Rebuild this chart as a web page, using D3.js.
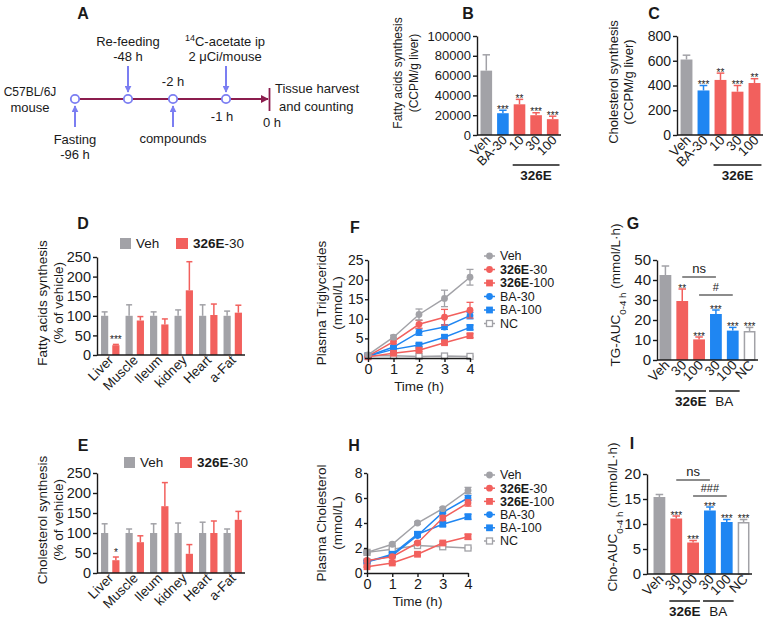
<!DOCTYPE html>
<html><head><meta charset="utf-8">
<script src="https://cdn.jsdelivr.net/npm/d3@7"></script>
<style>body{margin:0;background:#fff}svg{display:block}</style>
</head><body><svg id="c" width="771" height="626"></svg>
<script>
// ---------- DATA ----------
// Panel B: fatty acid synthesis (CCPM/g liver)
const bCats = ["Veh","BA-30","10","30","100"];
const bKinds = ["veh","ba","e","e","e"];
const bVals = [65000,22000,31000,20000,16000];
const bErr = [16000,3000,5000,2500,3000];
const bStars = ["","***","**","***","***"];
const bTicks = [0,20000,40000,60000,80000,100000];
// Panel C: cholesterol synthesis (CCPM/g liver)
const cCats = ["Veh","BA-30","10","30","100"];
const cVals = [610,360,445,350,420];
const cErr = [35,40,55,50,35];
const cStars = ["","***","**","***","**"];
const cTicks = [0,200,400,600,800];
// Panels D/E: tissues, % of vehicle
const organs = ["Liver","Muscle","Ileum","kidney","Heart","a-Fat"];
const dVeh = [100,100,100,100,100,100];
const dVehErr = [10,28,10,15,28,12];
const dTrt = [25,88,78,165,102,108];
const dTrtErr = [2,10,14,73,28,19];
const dStars = ["***","","","","",""];
const eVeh = [100,100,100,100,100,100];
const eVehErr = [23,10,23,25,27,10];
const eTrt = [32,77,167,48,100,133];
const eTrtErr = [8,16,59,23,30,21];
const eStars = ["*","","","","",""];
const pctTicks = [0,50,100,150,200,250];
// Panels F/H: time course
const hours = [0,1,2,3,4];
const seriesNames = ["Veh","326E-30","326E-100","BA-30","BA-100","NC"];
const tgVeh = [0.8,5.3,11.1,15.2,20.6],   tgVehErr = [0.2,0.5,1.4,2.1,2.0];
const tg326E30 = [0.5,4.2,8.6,10.4,12.2], tg326E30Err = [0.2,0.6,1.0,2.0,2.0];
const tg326E100 = [0.3,1.2,2.0,3.9,5.7],  tg326E100Err = [0.1,0.2,0.3,0.4,0.5];
const tgBA30 = [0.5,2.8,6.6,7.9,10.8],    tgBA30Err = [0.1,0.4,0.8,0.6,0.8];
const tgBA100 = [0.5,2.2,3.3,5.3,7.8],    tgBA100Err = [0.1,0.3,0.4,0.5,0.6];
const tgNC = [0.6,0.6,0.4,0.5,0.4],       tgNCErr = [0.1,0.1,0.1,0.1,0.1];
const tgTicks = [0,5,10,15,20,25];
const choVeh = [1.65,2.3,4.0,5.15,6.6],   choVehErr = [0.1,0.1,0.1,0.1,0.25];
const cho326E30 = [1.0,1.3,2.4,4.4,5.6],  cho326E30Err = [0.1,0.1,0.1,0.2,0.25];
const cho326E100 = [0.5,0.8,1.5,2.4,2.9], cho326E100Err = [0.05,0.1,0.1,0.1,0.2];
const choBA30 = [0.9,1.4,3.0,4.85,6.0],   choBA30Err = [0.1,0.1,0.1,0.1,0.2];
const choBA100 = [0.9,1.5,3.1,3.9,4.5],   choBA100Err = [0.1,0.1,0.2,0.15,0.2];
const choNC = [1.65,1.9,2.2,2.1,2.0],     choNCErr = [0.05,0.05,0.05,0.05,0.05];
const choTicks = [0,2,4,6,8];
// Panels G/I: AUC
const aucCats = ["Veh","30","100","30","100","NC"];
const aucKinds = ["veh","e","e","ba","ba","nc"];
const gVals = [42.5,29.5,10.3,23,14.7,14.5];
const gErr = [4.5,6,1.2,2,1.6,1.8];
const gStars = ["","**","***","***","***","***"];
const gTicks = [0,10,20,30,40,50];
const gSig = [{from:1,to:3,label:"ns",at:41.5},{from:2,to:4,label:"#",at:32.5}];
const iVals = [15.4,11.1,6.3,12.7,10.4,10.4];
const iErr = [0.5,0.5,0.4,0.7,0.5,0.5];
const iStars = ["","***","***","***","***","***"];
const iTicks = [0,5,10,15,20];
const iSig = [{from:1,to:3,label:"ns",at:18.8},{from:2,to:4,label:"###",at:15.6}];
const aucGroups = [{label:"326E",from:1,to:2},{label:"BA",from:3,to:4}];
const bcGroups = [{label:"326E",from:2,to:4}];

// ---------- STYLE ----------
const FONT = 'Arial, "Liberation Sans", Helvetica, sans-serif';
const GRAY = "#a2a2a7", RED = "#f2605d", BLUE = "#1f86f2", INK = "#1a1a1a";
const MAROON = "#8b1d4e", VIOLET = "#7b7ef2";
const kindColor = {veh:GRAY, ba:BLUE, e:RED, nc:GRAY};
const svg = d3.select("#c");

function text(g, x, y, s, o = {}) {
  return g.append("text").attr("x", x).attr("y", y).text(s)
    .attr("font-family", FONT).attr("font-size", o.fs || 13)
    .attr("font-weight", o.bold ? "bold" : "normal")
    .attr("text-anchor", o.anchor || "start").attr("fill", o.fill || INK);
}
function boldPrefix(g, x, y, s, fs, anchor) {
  const t = g.append("text").attr("x", x).attr("y", y).attr("font-family", FONT)
    .attr("font-size", fs).attr("fill", INK).attr("text-anchor", anchor || "start");
  if (s.startsWith("326E")) {
    t.append("tspan").attr("font-weight", "bold").text("326E");
    t.append("tspan").text(s.slice(4));
  } else t.text(s);
  return t;
}
function styleAxis(ax, fs) {
  ax.select(".domain").attr("stroke", INK).attr("stroke-width", 1.4);
  ax.selectAll(".tick line").attr("stroke", INK).attr("stroke-width", 1.4);
  ax.selectAll(".tick text").attr("font-size", fs).attr("font-family", FONT).attr("fill", INK);
}
function yAxis(g, y, x, ticks, fs, ts = 4, tp = 2) {
  const ax = g.append("g").attr("transform", `translate(${x},0)`)
    .call(d3.axisLeft(y).tickValues(ticks).tickSize(ts).tickSizeOuter(0).tickPadding(tp).tickFormat(d3.format("d")));
  styleAxis(ax, fs);
}
function yTitle(g, cx, cy, lines, fs) {
  lines.forEach((l, i) => {
    const t = g.append("text").attr("transform", `translate(${cx[i]},${cy}) rotate(-90)`)
      .attr("text-anchor", "middle").attr("font-family", FONT).attr("font-size", fs).attr("fill", INK);
    if (Array.isArray(l)) l.forEach(p => {
      const ts = t.append("tspan").text(p.t);
      if (p.sub) ts.attr("baseline-shift", "sub").attr("font-size", fs * 0.72);
    });
    else t.text(l);
  });
}
function catLabels(g, centers, yBot, labels, fs, dx, dy) {
  labels.forEach((l, i) => {
    g.append("text").attr("transform", `translate(${centers[i] + dx},${yBot + dy}) rotate(-45)`)
      .attr("text-anchor", "end").attr("font-family", FONT).attr("font-size", fs).attr("fill", INK).text(l);
  });
}

// ---------- simple bar panels (B, C, G, I) ----------
function barPanel(o) {
  const g = svg.append("g");
  const x = d3.scaleBand().domain(d3.range(o.vals.length)).range(o.xr).paddingInner(0.3).paddingOuter(0.15);
  const y = d3.scaleLinear().domain([0, o.max]).range([o.yBot, o.yTop]);
  const bw = x.bandwidth();
  o.vals.forEach((v, i) => {
    const col = kindColor[o.kinds[i]], cx = x(i) + bw / 2;
    const isNC = o.kinds[i] === "nc";
    g.append("line").attr("x1", cx).attr("x2", cx).attr("y1", y(v)).attr("y2", y(v + o.err[i]))
      .attr("stroke", col).attr("stroke-width", 1.5);
    g.append("line").attr("x1", cx - bw * 0.32).attr("x2", cx + bw * 0.32).attr("y1", y(v + o.err[i])).attr("y2", y(v + o.err[i]))
      .attr("stroke", col).attr("stroke-width", 1.5);
    g.append("rect").attr("x", x(i) + (isNC ? 0.75 : 0)).attr("y", y(v) + (isNC ? 0.75 : 0))
      .attr("width", bw - (isNC ? 1.5 : 0)).attr("height", y(0) - y(v) - (isNC ? 0.75 : 0))
      .attr("fill", isNC ? "#fff" : col).attr("stroke", isNC ? col : "none").attr("stroke-width", 1.5);
    if (o.stars[i]) text(g, cx, y(v + o.err[i]) + 2.5, o.stars[i], {fs: 10, anchor: "middle"});
  });
  yAxis(g, y, o.axisX, o.ticks, o.fs);
  g.append("line").attr("x1", o.axisX).attr("x2", o.xr[1]).attr("y1", o.yBot).attr("y2", o.yBot)
    .attr("stroke", INK).attr("stroke-width", 1.4);
  const centers = d3.range(o.vals.length).map(i => x(i) + bw / 2);
  catLabels(g, centers, o.yBot, o.cats, o.catFs, 5, 6);
  o.groups.forEach(gr => {
    const x1 = x(gr.from) - 1, x2 = x(gr.to) + bw + 1;
    g.append("line").attr("x1", x1).attr("x2", x2).attr("y1", o.yBot + o.ulDy).attr("y2", o.yBot + o.ulDy)
      .attr("stroke", INK).attr("stroke-width", 1.5);
    text(g, (x1 + x2) / 2, o.yBot + o.ulDy + 15, gr.label, {fs: 13.5, bold: gr.label === "326E", anchor: "middle"});
  });
  (o.sig || []).forEach(s => {
    const x1 = centers[s.from], x2 = centers[s.to];
    g.append("line").attr("x1", x1).attr("x2", x2).attr("y1", y(s.at)).attr("y2", y(s.at))
      .attr("stroke", INK).attr("stroke-width", 1.2);
    text(g, (x1 + x2) / 2, y(s.at) - 4, s.label, {fs: s.label === "ns" ? 13 : 11, anchor: "middle"});
  });
  yTitle(g, o.titleX, o.titleY, o.title, o.titleFs);
  text(g, o.letter[0], o.letter[1], o.letter[2], {fs: 16, bold: true, anchor: "middle"});
}

barPanel({vals: bVals, err: bErr, stars: bStars, kinds: bKinds, cats: bCats, max: 100000, ticks: bTicks,
  xr: [478, 561], axisX: 477, yTop: 36, yBot: 135, fs: 13, catFs: 13, groups: bcGroups, ulDy: 30,
  title: ["Fatty acids synthesis", "(CCPM/g liver)"], titleX: [402, 418], titleY: 73, titleFs: 12,
  letter: [468, 19, "B"]});
barPanel({vals: cVals, err: cErr, stars: cStars, kinds: bKinds, cats: cCats, max: 800, ticks: cTicks,
  xr: [678, 763], axisX: 677, yTop: 36, yBot: 135, fs: 14, catFs: 13.5, groups: bcGroups, ulDy: 30,
  title: ["Cholesterol synthesis", "(CCPM/g liver)"], titleX: [618, 633], titleY: 82, titleFs: 13,
  letter: [654, 19, "C"]});
barPanel({vals: gVals, err: gErr, stars: gStars, kinds: aucKinds, cats: aucCats, max: 50, ticks: gTicks,
  xr: [657, 758], axisX: 657, yTop: 260, yBot: 360, fs: 15, catFs: 13.5, groups: aucGroups, ulDy: 31, sig: gSig,
  title: [[{t:"TG-AUC"},{t:"0-4 h",sub:true},{t:" (mmol/L·h)"}]], titleX: [620], titleY: 295, titleFs: 13.5,
  letter: [633, 229, "G"]});
barPanel({vals: iVals, err: iErr, stars: iStars, kinds: aucKinds, cats: aucCats, max: 20, ticks: iTicks,
  xr: [651, 752], axisX: 647, yTop: 474, yBot: 574, fs: 15, catFs: 13.5, groups: aucGroups, ulDy: 27, sig: iSig,
  title: [[{t:"Cho-AUC"},{t:"0-4 h",sub:true},{t:" (mmol/L·h)"}]], titleX: [617], titleY: 517, titleFs: 13.5,
  letter: [632, 449, "I"]});

// ---------- grouped tissue panels (D, E) ----------
function groupPanel(o) {
  const g = svg.append("g");
  const x = d3.scaleBand().domain(organs).range([98, 245]);
  const xi = d3.scaleBand().domain(["veh", "trt"]).range([0, x.bandwidth()]).paddingInner(0.36).paddingOuter(0.27);
  const y = d3.scaleLinear().domain([0, 250]).range([o.yBot, o.yTop]);
  const bw = xi.bandwidth();
  organs.forEach((org, i) => {
    [["veh", o.veh[i], o.vehErr[i], GRAY], ["trt", o.trt[i], o.trtErr[i], RED]].forEach(([k, v, e, col]) => {
      const x0 = x(org) + xi(k), cx = x0 + bw / 2;
      g.append("line").attr("x1", cx).attr("x2", cx).attr("y1", y(v)).attr("y2", y(v + e)).attr("stroke", col).attr("stroke-width", 1.5);
      g.append("line").attr("x1", cx - 3).attr("x2", cx + 3).attr("y1", y(v + e)).attr("y2", y(v + e)).attr("stroke", col).attr("stroke-width", 1.5);
      g.append("rect").attr("x", x0).attr("y", y(v)).attr("width", bw).attr("height", y(0) - y(v)).attr("fill", col);
      if (k === "trt" && o.stars[i]) text(g, cx, y(v + e) - 1, o.stars[i], {fs: 10, anchor: "middle"});
    });
  });
  yAxis(g, y, 97, pctTicks, 14.5);
  g.append("line").attr("x1", 97).attr("x2", 245).attr("y1", o.yBot).attr("y2", o.yBot).attr("stroke", INK).attr("stroke-width", 1.4);
  catLabels(g, organs.map(d => x(d) + x.bandwidth() / 2), o.yBot, organs, 13.5, 4, 6);
  // legend
  g.append("rect").attr("x", o.leg[0]).attr("y", o.leg[1] - 10).attr("width", 11).attr("height", 11).attr("fill", GRAY);
  text(g, o.leg[0] + 16, o.leg[1], "Veh", {fs: 13.5});
  g.append("rect").attr("x", o.leg[0] + 56).attr("y", o.leg[1] - 10).attr("width", 12).attr("height", 11).attr("fill", RED);
  boldPrefix(g, o.leg[0] + 73, o.leg[1], "326E-30", 13.5);
  yTitle(g, [47, 63], o.titleY, o.title, 13.5);
  text(g, 83, o.letterY, o.letter, {fs: 16, bold: true, anchor: "middle"});
}
groupPanel({veh: dVeh, vehErr: dVehErr, trt: dTrt, trtErr: dTrtErr, stars: dStars, yTop: 257, yBot: 355,
  leg: [120, 248], title: ["Fatty acids synthesis", "(% of vehicle)"], titleY: 303, letter: "D", letterY: 229});
groupPanel({veh: eVeh, vehErr: eVehErr, trt: eTrt, trtErr: eTrtErr, stars: eStars, yTop: 473, yBot: 573,
  leg: [124, 467], title: ["Cholesterol synthesis", "(% of vehicle)"], titleY: 520, letter: "E", letterY: 451});

// ---------- line panels (F, H) ----------
const seriesStyle = [
  {col: GRAY, shape: "circle"}, {col: RED, shape: "circle"}, {col: RED, shape: "square"},
  {col: BLUE, shape: "circle"}, {col: BLUE, shape: "square"}, {col: GRAY, shape: "open"}];
function marker(g, shape, col, cx, cy) {
  if (shape === "circle") g.append("circle").attr("cx", cx).attr("cy", cy).attr("r", 3.4).attr("fill", col);
  else if (shape === "square") g.append("rect").attr("x", cx - 3.4).attr("y", cy - 3.4).attr("width", 6.8).attr("height", 6.8).attr("fill", col);
  else g.append("rect").attr("x", cx - 3).attr("y", cy - 3).attr("width", 6).attr("height", 6).attr("fill", "#fff").attr("stroke", col).attr("stroke-width", 1.3);
}
function linePanel(o) {
  const g = svg.append("g");
  const x = d3.scaleLinear().domain([0, 4]).range([o.x0, o.x1]);
  const y = d3.scaleLinear().domain([0, o.max]).range([o.yBot, o.yTop]);
  const order = [5, 4, 3, 2, 1, 0];
  order.forEach(si => {
    const st = seriesStyle[si], vals = o.series[si], errs = o.errs[si];
    g.append("path").datum(hours).attr("fill", "none").attr("stroke", st.col).attr("stroke-width", 1.5)
      .attr("d", d3.line().x(h => x(h)).y((h, i) => y(vals[i])));
    hours.forEach((h, i) => {
      const cx = x(h), yt = y(vals[i] + errs[i]), yb = y(Math.max(0, vals[i] - errs[i]));
      g.append("line").attr("x1", cx).attr("x2", cx).attr("y1", yt).attr("y2", yb).attr("stroke", st.col).attr("stroke-width", 1.3);
      [yt, yb].forEach(yy => g.append("line").attr("x1", cx - 3.5).attr("x2", cx + 3.5).attr("y1", yy).attr("y2", yy).attr("stroke", st.col).attr("stroke-width", 1.3));
    });
    hours.forEach((h, i) => marker(g, st.shape, st.col, x(h), y(vals[i])));
  });
  yAxis(g, y, o.x0, o.ticks, 14, 3, 1.5);
  const ax = g.append("g").attr("transform", `translate(0,${o.yBot})`)
    .call(d3.axisBottom(x).tickValues(hours).tickSize(4).tickSizeOuter(0).tickPadding(2).tickFormat(d3.format("d")));
  styleAxis(ax, 14.5);
  text(g, (o.x0 + o.x1) / 2, o.yBot + 33, "Time (h)", {fs: 13.5, anchor: "middle"});
  // legend
  seriesNames.forEach((n, i) => {
    const ly = o.legY + i * o.legStep, st = seriesStyle[i];
    g.append("line").attr("x1", 484).attr("x2", 495).attr("y1", ly).attr("y2", ly).attr("stroke", st.col).attr("stroke-width", 1.5);
    marker(g, st.shape, st.col, 489.5, ly);
    boldPrefix(g, 500, ly + 4.3, n, o.legFs);
  });
  yTitle(g, [326, 342], o.titleY, o.title, 13.5);
  text(g, o.letter[0], o.letter[1], o.letter[2], {fs: 16, bold: true, anchor: "middle"});
}
linePanel({series: [tgVeh, tg326E30, tg326E100, tgBA30, tgBA100, tgNC],
  errs: [tgVehErr, tg326E30Err, tg326E100Err, tgBA30Err, tgBA100Err, tgNCErr],
  max: 25, ticks: tgTicks, x0: 368, x1: 470, yTop: 260, yBot: 358, legY: 256, legStep: 13.5, legFs: 12.5,
  title: ["Plasma Triglycerides", "(mmol/L)"], titleY: 303, letter: [355, 233, "F"]});
linePanel({series: [choVeh, cho326E30, cho326E100, choBA30, choBA100, choNC],
  errs: [choVehErr, cho326E30Err, cho326E100Err, choBA30Err, choBA100Err, choNCErr],
  max: 8, ticks: choTicks, x0: 367, x1: 468, yTop: 473, yBot: 573, legY: 475, legStep: 13.2, legFs: 12.5,
  title: ["Plasma Cholesterol", "(mmol/L)"], titleY: 523, letter: [354, 451, "H"]});

// ---------- Panel A: schematic timeline ----------
(function () {
  const g = svg.append("g");
  const defs = svg.append("defs");
  defs.append("marker").attr("id", "ahV").attr("viewBox", "0 0 10 10").attr("refX", 9).attr("refY", 5)
    .attr("markerWidth", 7).attr("markerHeight", 7).attr("markerUnits", "userSpaceOnUse").attr("orient", "auto")
    .append("path").attr("d", "M0,0L10,5L0,10z").attr("fill", VIOLET);
  defs.append("marker").attr("id", "ahM").attr("viewBox", "0 0 10 10").attr("refX", 9).attr("refY", 5)
    .attr("markerWidth", 8).attr("markerHeight", 8).attr("markerUnits", "userSpaceOnUse").attr("orient", "auto")
    .append("path").attr("d", "M0,0L10,5L0,10z").attr("fill", MAROON);
  const ly = 99;
  g.append("line").attr("x1", 75).attr("x2", 268).attr("y1", ly).attr("y2", ly).attr("stroke", MAROON).attr("stroke-width", 2).attr("marker-end", "url(#ahM)");
  g.append("line").attr("x1", 269.5).attr("x2", 269.5).attr("y1", 88).attr("y2", 111).attr("stroke", MAROON).attr("stroke-width", 1.8);
  const pts = [75, 128, 173, 226];
  pts.forEach(px => g.append("circle").attr("cx", px).attr("cy", ly).attr("r", 4.2).attr("fill", "#fff").attr("stroke", VIOLET).attr("stroke-width", 1.8));
  [[128, 66, 92], [226, 66, 92], [75, 127, 106], [173, 127, 106]].forEach(([px, y1, y2]) =>
    g.append("line").attr("x1", px).attr("x2", px).attr("y1", y1).attr("y2", y2).attr("stroke", VIOLET).attr("stroke-width", 2).attr("marker-end", "url(#ahV)"));
  text(g, 83, 19, "A", {fs: 16, bold: true, anchor: "middle"});
  text(g, 30, 96, "C57BL/6J", {anchor: "middle", fs: 12});
  text(g, 30, 112, "mouse", {anchor: "middle"});
  text(g, 128, 46, "Re-feeding", {anchor: "middle"});
  text(g, 128, 61, "-48 h", {anchor: "middle"});
  text(g, 173, 86, "-2 h", {anchor: "middle"});
  const t = g.append("text").attr("x", 225).attr("y", 46).attr("text-anchor", "middle").attr("font-family", FONT).attr("font-size", 13).attr("fill", INK);
  t.append("tspan").attr("baseline-shift", "super").attr("font-size", 9).text("14");
  t.append("tspan").text("C-acetate ip");
  text(g, 225, 61, "2 μCi/mouse", {anchor: "middle"});
  text(g, 222, 121, "-1 h", {anchor: "middle"});
  text(g, 272, 127, "0 h", {anchor: "middle"});
  text(g, 275, 93, "Tissue harvest");
  text(g, 279, 111, "and counting");
  text(g, 75, 144, "Fasting", {anchor: "middle"});
  text(g, 75, 159, "-96 h", {anchor: "middle"});
  text(g, 173, 143, "compounds", {anchor: "middle"});
})();
</script></body></html>
